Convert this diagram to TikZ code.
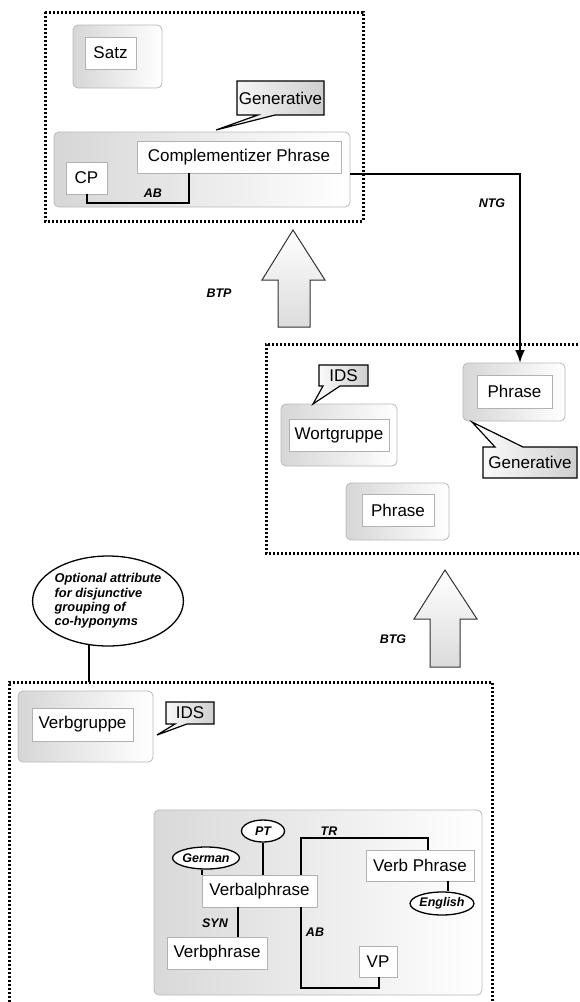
\documentclass[tikz,border=0pt]{standalone}
\usepackage{fontspec}
\setmainfont{Liberation Sans}
\usetikzlibrary{shapes.geometric,arrows.meta,calc}

\tikzset{
 frame/.style={line width=3pt, dash pattern=on 2.4pt off 1.6pt},
 outbox/.style={draw=gray!55, line width=0.8pt, rounded corners=5pt, left color=gray!32, right color=white, inner sep=0},
 inbox/.style={draw=gray!60, line width=0.9pt, fill=white, font=\fontsize{17}{20}\selectfont, inner sep=0},
 callbox/.style={draw=black, line width=1.2pt, left color=white, right color=gray!38},
 calltext/.style={font=\fontsize{17}{20}\selectfont, inner sep=0},
 lab/.style={font=\fontsize{12.5}{14}\selectfont\bfseries\itshape, inner sep=0},
 tag/.style={ellipse, draw, line width=1.3pt, fill=white, inner sep=0, font=\fontsize{12.5}{14}\selectfont\bfseries\itshape},
 conn/.style={line width=2pt},
 fat/.style={draw=black!80, line width=1pt, top color=white, bottom color=gray!28, line join=miter},
}

\begin{document}
\begin{tikzpicture}[x=1pt,y=-1pt]
\useasboundingbox (0,0) rectangle (579,1002);
\fill[white] (0,0) rectangle (579,1002);

% ---------- top group ----------
\draw[frame] (45,12) rectangle (363,221);
\node[outbox, minimum width=89, minimum height=63] (satzc) at (117.5,56.5) {};
\node[inbox, minimum width=51, minimum height=32] (satz) at (110.5,53) {Satz};
\node[outbox, minimum width=296, minimum height=75] (cpc) at (202,169.5) {};
\node[inbox, minimum width=204, minimum height=32] (cphr) at (239,157) {Complementizer Phrase};
\node[inbox, minimum width=41, minimum height=32] (cp) at (86.5,178) {CP};
\coordinate (ab1) at (189,203);
\draw[conn] (cp.south) |- (ab1) -- (ab1 |- cphr.south);
\node[lab] (abl1) at (153,193) {AB};
\path[callbox] (237,81) -- (324,81) -- (324,115) -- (275,115) -- (216,130) -- (258,115) -- (237,115) -- cycle;
\node[calltext] (gen1) at (280.5,98) {Generative};

% NTG connector
\coordinate (ntgc) at (520,174);
\draw[conn, -{Latex[length=13pt,width=10pt]}] (cpc.east |- ntgc) -- (ntgc) -- (520,363);
\node[lab] (ntg) at (492,203) {NTG};

% BTP arrow
\path[fat] (293,230) -- (325,280) -- (310,280) -- (310,327) -- (278,327) -- (278,280) -- (262,280) -- cycle;
\node[lab] (btp) at (219,293) {BTP};

% ---------- middle group ----------
\draw[frame] (590,344) -- (266,344) -- (266,553) -- (590,553);
\node[outbox, minimum width=116, minimum height=62] (wgc) at (339,435) {};
\node[inbox, minimum width=100, minimum height=32] (wg) at (339,435) {Wortgruppe};
\node[outbox, minimum width=103, minimum height=57] (ph1c) at (397.5,511.5) {};
\node[inbox, minimum width=72, minimum height=32] (ph1) at (398,510) {Phrase};
\node[outbox, minimum width=102, minimum height=58] (ph2c) at (514,392) {};
\node[inbox, minimum width=75, minimum height=33] (ph2) at (514.5,391.5) {Phrase};
\path[callbox] (319,365) -- (368,365) -- (368,386) -- (340,386) -- (313,404) -- (323,386) -- (319,386) -- cycle;
\node[calltext] (ids1) at (343.5,375.5) {IDS};
\path[callbox] (483,447) -- (495,447) -- (472,422) -- (523,447) -- (577,447) -- (577,478) -- (483,478) -- cycle;
\node[calltext] (gen2) at (530,462.5) {Generative};

% BTG arrow
\path[fat] (445,570) -- (477,619) -- (460,619) -- (460,667) -- (430,667) -- (430,619) -- (414,619) -- cycle;
\node[lab] (btg) at (393,639) {BTG};

% ---------- bottom group ----------
\node[ellipse, draw, line width=1.3pt, fill=white, minimum width=148, minimum height=90, inner sep=0, align=left,
      font=\fontsize{12.8}{14.3}\selectfont\bfseries\itshape] (opt) at (108,601)
      {Optional attribute\\for disjunctive\\grouping of\\co-hyponyms};
\coordinate (vt) at (89,682);
\draw[conn] (vt) -- (vt |- opt.249);
\draw[frame] (9,1010) -- (9,682) -- (492,682) -- (492,1010);

\node[outbox, minimum width=135, minimum height=71] (vgc) at (85.5,726.5) {};
\node[inbox, minimum width=101, minimum height=33] (vg) at (82.5,724.5) {Verbgruppe};
\path[callbox] (166,702) -- (214,702) -- (214,724) -- (187,724) -- (157,735) -- (175,724) -- (166,724) -- cycle;
\node[calltext] (ids2) at (190,713) {IDS};

\node[outbox, left color=gray!30, minimum width=328, minimum height=185] (big) at (318,902.5) {};
\node[tag, minimum width=43, minimum height=22] (pt) at (263,831) {PT};
\node[tag, minimum width=56, minimum height=22] (ger) at (206,858) {German};
\node[inbox, minimum width=115, minimum height=32] (vbal) at (259.5,891) {Verbalphrase};
\node[inbox, minimum width=108, minimum height=31] (vphr) at (420,865.5) {Verb Phrase};
\node[tag, minimum width=62, minimum height=23] (eng) at (442,903.5) {English};
\node[inbox, minimum width=100, minimum height=32] (vbp) at (217,953) {Verbphrase};
\node[inbox, minimum width=38, minimum height=31] (vp) at (378,961.5) {VP};

\draw[conn] (vbal.north west) -- (vbal.north west |- ger.south);
\draw[conn] (pt.south) -- (pt.south |- vbal.north);
\coordinate (tr1) at (301,838);
\coordinate (tr2) at (428,838);
\draw[conn] (tr1 |- vbal.north) -- (tr1) -- (tr2) -- (tr2 |- vphr.north);
\node[lab] (trl) at (329,831) {TR};
\coordinate (en) at (448,892);
\draw[conn] (en |- vphr.south) -- (en |- eng.north);
\coordinate (ab2) at (301,988);
\coordinate (ab3) at (379,988);
\draw[conn] (ab2 |- vbal.south) -- (ab2) -- (ab3) -- (ab3 |- vp.south);
\node[lab] (abl2) at (315,932) {AB};
\coordinate (sy) at (238,920);
\draw[conn] (sy |- vbal.south) -- (sy |- vbp.north);
\node[lab] (synl) at (215,923) {SYN};
\end{tikzpicture}
\end{document}
